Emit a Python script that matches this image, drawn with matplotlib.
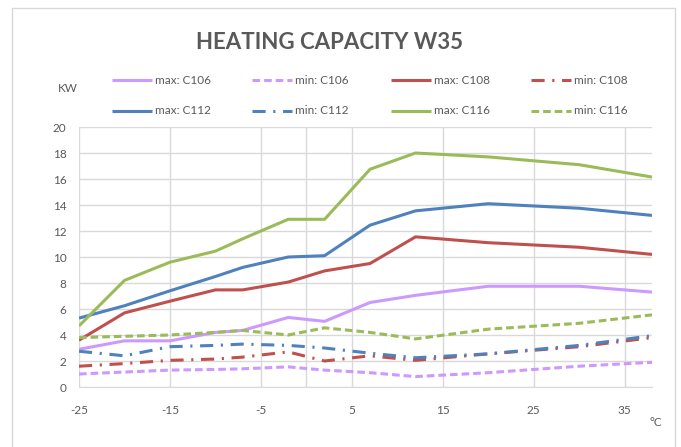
import matplotlib
matplotlib.use("Agg")
import matplotlib.pyplot as plt
from matplotlib.lines import Line2D
from matplotlib.patches import Rectangle

plt.rcParams['font.family'] = ['Lato', 'DejaVu Sans']
plt.rcParams['axes.unicode_minus'] = False

# outdoor temperature (°C)
temps = [-25, -20, -15, -10, -7, -2, 2, 7, 12, 20, 30, 38]

# heating capacity (kW)
max_c106 = [2.9, 3.55, 3.55, 4.2, 4.35, 5.35, 5.05, 6.5, 7.05, 7.75, 7.75, 7.3]
min_c106 = [1.0, 1.15, 1.3, 1.35, 1.4, 1.55, 1.3, 1.1, 0.8, 1.1, 1.6, 1.9]
max_c108 = [3.6, 5.7, 6.6, 7.47, 7.47, 8.07, 8.93, 9.5, 11.55, 11.1, 10.75, 10.2]
min_c108 = [1.6, 1.8, 2.05, 2.15, 2.3, 2.7, 2.0, 2.4, 2.05, 2.55, 3.1, 3.8]
max_c112 = [5.3, 6.25, 7.4, 8.5, 9.2, 10.0, 10.1, 12.45, 13.55, 14.1, 13.75, 13.2]
min_c112 = [2.75, 2.4, 3.1, 3.2, 3.3, 3.2, 3.0, 2.6, 2.25, 2.55, 3.2, 3.95]
max_c116 = [4.7, 8.2, 9.6, 10.45, 11.4, 12.9, 12.9, 16.75, 18.0, 17.7, 17.1, 16.15]
min_c116 = [3.8, 3.9, 4.0, 4.2, 4.35, 4.0, 4.55, 4.2, 3.7, 4.45, 4.9, 5.55]

labels = ["max: C106", "min: C106", "max: C108", "min: C108",
          "max: C112", "min: C112", "max: C116", "min: C116"]
series = [max_c106, min_c106, max_c108, min_c108,
          max_c112, min_c112, max_c116, min_c116]

purple = "#CC99FF"
red = "#C0504D"
blue = "#4F81BD"
green = "#9BBB59"
colors = [purple, purple, red, red, blue, blue, green, green]

dash = (2.5, 1.3)
dash_dot = (4.3, 2.5, 0.7, 2.5)
styles = [None, dash, None, dash_dot, None, dash_dot, None, dash]

text_col = "#595959"
grid_col = "#D9D9D9"

W, H = 681, 447
fig = plt.figure(figsize=(W / 100, H / 100), dpi=100)

# chart frame
fig.patches.append(Rectangle((12 / W, -0.05), (675 - 12) / W, 1.05 - 8 / H,
                             transform=fig.transFigure, fill=False,
                             edgecolor=grid_col, linewidth=1.0))

x0, x1, y0, y1 = 79, 652, 127, 387
ax = fig.add_axes([x0 / W, 1 - y1 / H, (x1 - x0) / W, (y1 - y0) / H])

for vals, col, ls in zip(series, colors, styles):
    ln, = ax.plot(temps, vals, color=col, lw=2.2, solid_capstyle='butt',
                  dash_capstyle='butt')
    if ls is not None:
        ln.set_dashes(ls)

ax.set_xlim(-25, 38)
ax.set_ylim(0, 20)
ax.set_xticks([-25, -15, -5, 5, 15, 25, 35])
ax.set_yticks(range(0, 21, 2))
ax.grid(True, color=grid_col, linewidth=1.0)
ax.set_axisbelow(True)
ax.axvline(0, color=grid_col, linewidth=1.0, zorder=0.5)
for side in ['top', 'right', 'left']:
    ax.spines[side].set_visible(False)
ax.spines['bottom'].set_color(grid_col)
ax.tick_params(length=0, labelsize=8.5, labelcolor=text_col)
ax.tick_params(axis='x', pad=13)
ax.tick_params(axis='y', pad=9)

fig.text(329 / W, 1 - 42.5 / H, "HEATING CAPACITY W35", ha='center', va='center',
         fontsize=16, fontweight='bold', color=text_col)
fig.text(68 / W, 1 - 88 / H, "KW", ha='center', va='center',
         fontsize=8.5, color=text_col)
fig.text(656 / W, 1 - 423 / H, "°C", ha='center', va='center',
         fontsize=8.5, color=text_col)

# legend, 4 columns x 2 rows
col_x = [112, 252, 391, 531]
row_y = [80, 111]
for i, (lab, col, ls) in enumerate(zip(labels, colors, styles)):
    cx = col_x[i % 4]
    ry = 1 - row_y[i // 4] / H
    ln = Line2D([cx / W, (cx + 40) / W], [ry, ry], transform=fig.transFigure,
                color=col, lw=2.2, solid_capstyle='butt', dash_capstyle='butt')
    if ls is not None:
        ln.set_dashes(ls)
    fig.lines.append(ln)
    fig.text((cx + 43) / W, ry, lab, ha='left', va='center',
             fontsize=8.5, color=text_col)

fig.savefig("out.png", dpi=100)
